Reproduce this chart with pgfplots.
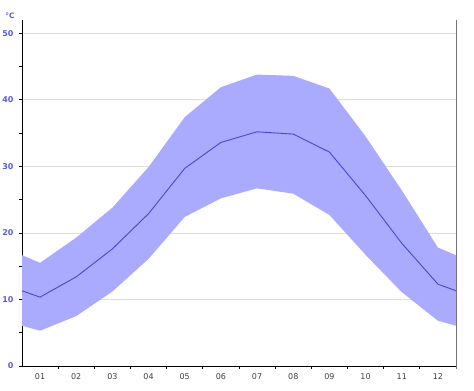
\documentclass[border=0pt]{standalone}
\usepackage{pgfplots}
\pgfplotsset{compat=1.18}
\usepgfplotslibrary{fillbetween}
\usepackage{fontspec}
\setmainfont{DejaVu Sans}
\definecolor{bandfill}{RGB}{170,170,255}
\definecolor{linecol}{RGB}{70,70,220}
\definecolor{labblue}{RGB}{90,90,230}
\begin{document}
\begin{tikzpicture}
\begin{axis}[
  scale only axis, width=434pt, height=346pt,
  xmin=0.5, xmax=12.5, ymin=0, ymax=52,
  axis x line*=bottom, axis y line*=left,
  axis line style={black, line width=0.8pt, -},
  xtick={1,...,12}, xticklabels={01,02,03,04,05,06,07,08,09,10,11,12},
  minor xtick={1.5,2.5,...,11.5},
  ytick={0,10,...,50}, minor ytick={5,15,...,45},
  ymajorgrids, major grid style={black!13, line width=0.7pt},
  tick align=outside,
  major x tick style={draw=none},
  major y tick style={black, line width=0.7pt},
  minor tick style={black, line width=0.7pt},
  major tick length=3pt, minor tick length=3pt,
  tick label style={font=\fontsize{8}{9}\selectfont},
  yticklabel style={text=labblue, font=\fontsize{8}{9}\selectfont\bfseries, xshift=-2pt},
  xticklabel style={text=black!75, yshift=-1pt},
  /pgf/number format/assume math mode=true,
  clip=false,
]
\addplot[name path=up, draw=none] coordinates {
 (0.5,16.65) (1,15.5) (2,19.3) (3,23.8) (4,29.9) (5,37.4) (6,41.9) (7,43.8) (8,43.6) (9,41.7) (10,34.5) (11,26.4) (12,17.8) (12.5,16.65)};
\addplot[name path=lo, draw=none] coordinates {
 (0.5,6.05) (1,5.3) (2,7.5) (3,11.2) (4,16.1) (5,22.4) (6,25.2) (7,26.7) (8,25.9) (9,22.7) (10,16.7) (11,11.1) (12,6.8) (12.5,6.05)};
\addplot[bandfill, draw=none] fill between[of=up and lo];
\addplot[linecol, line width=0.9pt] coordinates {
 (0.5,11.3) (1,10.35) (2,13.4) (3,17.6) (4,22.9) (5,29.7) (6,33.6) (7,35.2) (8,34.85) (9,32.15) (10,25.6) (11,18.45) (12,12.3) (12.5,11.3)};
\draw[black!55, line width=0.8pt] ([yshift=-3pt]rel axis cs:1,0) -- (rel axis cs:1,1);
\node[text=labblue, font=\fontsize{7.5}{8}\selectfont\bfseries] at ([xshift=-12pt, yshift=4pt]rel axis cs:0,1) {°C};
\end{axis}
\pgfresetboundingbox
\path ([shift={(-22pt,-25pt)}]current axis.south west) rectangle ([shift={(18pt,20pt)}]current axis.north east);
\end{tikzpicture}
\end{document}
